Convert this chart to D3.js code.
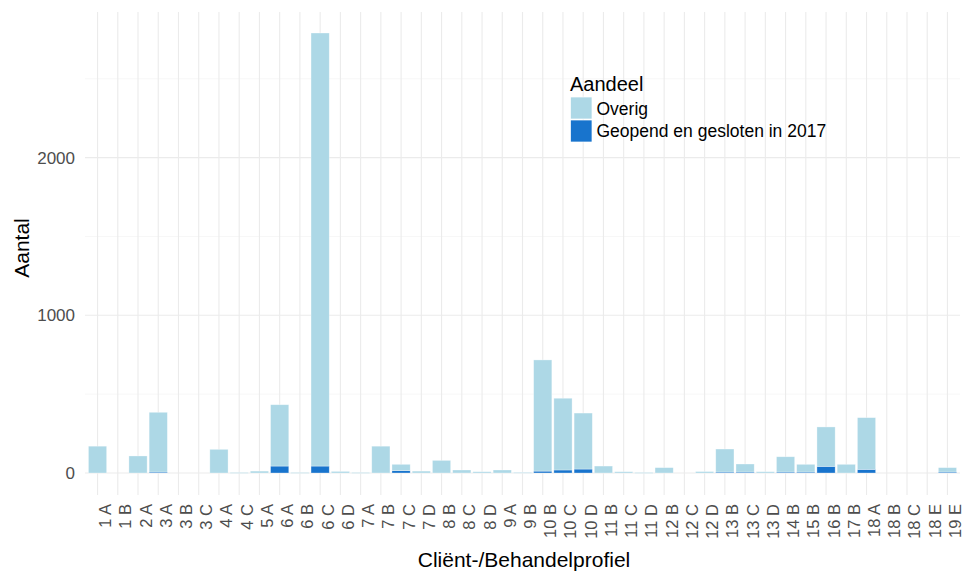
<!DOCTYPE html>
<html>
<head>
<meta charset="utf-8">
<script src="https://cdn.jsdelivr.net/npm/d3@7"></script>
<style>
body { margin: 0; background: #fff; }
svg { display: block; font-family: "Liberation Sans", Arial, sans-serif; }
</style>
</head>
<body>
<svg id="chart" width="963" height="572"></svg>
<script>
const categories = ["1 A","1 B","2 A","3 A","3 B","3 C","4 A","4 C","5 A","6 A","6 B","6 C","6 D","7 A","7 B","7 C","7 D","8 B","8 C","8 D","9 A","9 B","10 B","10 C","10 D","11 B","11 C","11 D","12 B","12 C","12 D","13 B","13 C","13 D","14 B","15 B","16 B","17 B","18 A","18 B","18 C","18 E","19 E"];
const geopend = [0,0,0,6,0,0,0,0,0,44,0,44,0,0,0,15,0,0,0,0,0,0,12,19,25,0,0,0,0,0,0,6,6,0,6,6,42,0,23,0,0,0,6];
const overig  = [170,0,108,379,0,0,150,3,12,389,3,2746,10,3,170,40,12,80,19,8,19,4,705,455,355,44,8,3,34,0,9,146,51,8,97,49,250,55,328,0,0,0,28];
const seriesNames = ["Overig","Geopend en gesloten in 2017"];
const seriesColors = ["#ADD8E6","#1874CD"];
const yTicks = [0,1000,2000];
const yMinor = [500,1500,2500];

const svg = d3.select("#chart");
const W = 963;
const panel = {left: 85, right: 960, top: 12, bottom: 495};

const x = d3.scaleBand().domain(categories).range([panel.left, panel.right]).paddingInner(0.1).paddingOuter(0.17);
const y = d3.scaleLinear().domain([0, 1000]).range([473, 315.3]);

const g = svg.append("g");
// grid
g.selectAll(".ymin").data(yMinor).join("line")
  .attr("x1", panel.left).attr("x2", panel.right)
  .attr("y1", d => y(d)).attr("y2", d => y(d))
  .attr("stroke", "#f2f2f2").attr("stroke-width", 0.6);
g.selectAll(".ymaj").data(yTicks).join("line")
  .attr("x1", panel.left).attr("x2", panel.right)
  .attr("y1", d => y(d)).attr("y2", d => y(d))
  .attr("stroke", "#ebebeb").attr("stroke-width", 1.1);
g.selectAll(".xg").data(categories).join("line")
  .attr("x1", d => x(d) + x.bandwidth()/2).attr("x2", d => x(d) + x.bandwidth()/2)
  .attr("y1", panel.top).attr("y2", panel.bottom)
  .attr("stroke", "#ebebeb").attr("stroke-width", 1.1);

// stacked bars
const rows = categories.map((c, i) => ({cat: c, "Overig": overig[i], "Geopend en gesloten in 2017": geopend[i]}));
const stack = d3.stack().keys(["Geopend en gesloten in 2017", "Overig"])(rows);
const color = d3.scaleOrdinal().domain(seriesNames).range(seriesColors);
stack.forEach(layer => {
  g.append("g").selectAll("rect").data(layer.filter(d => d[1] - d[0] > 0)).join("rect")
    .attr("x", d => x(d.data.cat))
    .attr("width", x.bandwidth())
    .attr("y", d => y(d[1]))
    .attr("height", d => Math.max(0.8, y(d[0]) - y(d[1])))
    .attr("fill", color(layer.key))
    .attr("stroke", "#ffffff").attr("stroke-opacity", 0.45).attr("stroke-width", 0.7);
});

// y tick labels
g.selectAll(".yl").data(yTicks).join("text")
  .attr("x", 75).attr("y", d => y(d)).attr("dy", "0.36em")
  .attr("text-anchor", "end").attr("font-size", 17).attr("fill", "#4d4d4d")
  .text(d => d);

// x tick labels
g.selectAll(".xl").data(categories).join("text")
  .attr("transform", d => `translate(${x(d) + x.bandwidth()/2 + 13.5},504) rotate(-90)`)
  .attr("text-anchor", "end").attr("font-size", 16.5).attr("fill", "#4d4d4d")
  .text(d => d);

// axis titles
svg.append("text").attr("x", 524).attr("y", 567).attr("text-anchor", "middle")
  .attr("font-size", 21).attr("fill", "#000").text("Cliënt-/Behandelprofiel");
svg.append("text").attr("transform", "translate(29,248) rotate(-90)").attr("text-anchor", "middle")
  .attr("font-size", 21).attr("fill", "#000").text("Aantal");

// legend
const lg = svg.append("g").attr("transform", "translate(570,0)");
lg.append("text").attr("x", 0).attr("y", 91).attr("font-size", 20).attr("fill", "#000").text("Aandeel");
seriesNames.forEach((s, i) => {
  lg.append("rect").attr("x", 0.5).attr("y", 97 + i * 23).attr("width", 21.5).attr("height", 22)
    .attr("fill", seriesColors[i]).attr("stroke", "#ffffff").attr("stroke-width", 0.7);
  lg.append("text").attr("x", 26.5).attr("y", 108.5 + i * 22.5).attr("dy", "0.35em")
    .attr("font-size", 17.5).attr("fill", "#000").text(s);
});
</script>
</body>
</html>
